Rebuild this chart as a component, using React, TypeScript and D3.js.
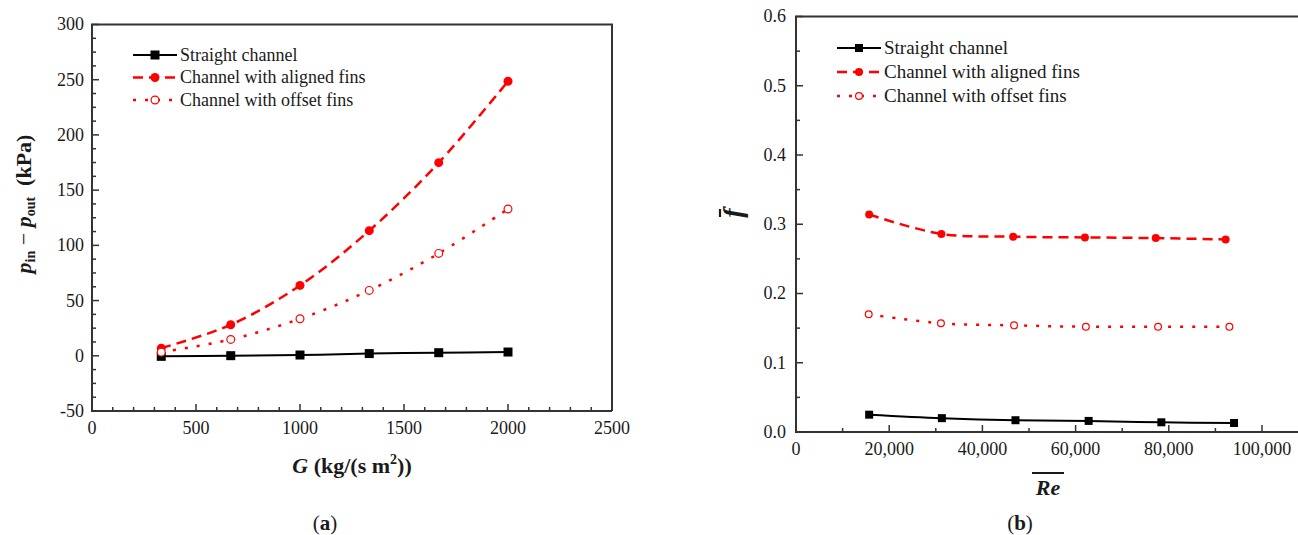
import React from "react";
import * as d3 from "d3";

// ---------- data: panel (a) ----------
const gValues = [333, 667, 1000, 1333, 1667, 2000];
const dpStraight = [-0.5, 0.1, 0.7, 2.0, 2.8, 3.4];
const dpAligned = [6.9, 28.1, 63.7, 113.3, 174.9, 248.6];
const dpOffset = [3.3, 14.8, 33.5, 59.2, 92.7, 132.9];
const aXTicks = [0, 500, 1000, 1500, 2000, 2500];
const aYTicks = [-50, 0, 50, 100, 150, 200, 250, 300];

// ---------- data: panel (b) ----------
const reStraight = [15700, 31300, 47100, 62800, 78400, 94000];
const fStraight = [0.025, 0.02, 0.017, 0.016, 0.014, 0.013];
const reAligned = [15700, 31200, 46600, 62000, 77200, 92200];
const fAligned = [0.314, 0.286, 0.282, 0.281, 0.28, 0.278];
const reOffset = [15600, 31100, 46800, 62200, 77700, 93000];
const fOffset = [0.17, 0.157, 0.154, 0.152, 0.152, 0.152];
const bXTicks = [0, 20000, 40000, 60000, 80000, 100000];
const bYTicks = [0, 0.1, 0.2, 0.3, 0.4, 0.5, 0.6];

const seriesNames = ["Straight channel", "Channel with aligned fins", "Channel with offset fins"];

const FONT = "Liberation Serif";
const AXIS = "#333";
const TXT = "#1a1a1a";
const RED = "#ff0000";
const fontStyle = { fontFamily: '"Liberation Serif", "Times New Roman", Times, serif' };

type Style = { color: string; dash?: string; width: number; marker: "square" | "circle" | "open" };
const styles: Style[] = [
  { color: "#000", width: 2, marker: "square" },
  { color: RED, dash: "10 6", width: 2.5, marker: "circle" },
  { color: RED, dash: "3 9", width: 2.5, marker: "open" },
];

function Marker({ x, y, s, size }: { x: number; y: number; s: Style; size: number }) {
  if (s.marker === "square")
    return <rect x={x - size / 2} y={y - size / 2} width={size} height={size} fill="#000" />;
  if (s.marker === "circle") return <circle cx={x} cy={y} r={size / 2} fill={RED} />;
  return <circle cx={x} cy={y} r={size / 2 - 0.6} fill="#fff" stroke={RED} strokeWidth={1.2} />;
}

type PanelProps = {
  x: d3.ScaleLinear<number, number>;
  y: d3.ScaleLinear<number, number>;
  xTicks: number[];
  yTicks: number[];
  xMinorStep: number;
  yMinorStep: number;
  xFmt: (v: number) => string;
  yFmt: (v: number) => string;
  series: { xs: number[]; ys: number[] }[];
  rightBorder: boolean;
  markerSize: number;
  legend: { x: number; y: number; dy: number; fontSize: number };
  tickFont: number;
  xLabelDy: number;
  yLabelDx: number;
};

function Panel(p: PanelProps) {
  const [x0, x1] = p.x.range();
  const [y0, y1] = p.y.range();
  const xd = p.x.domain();
  const yd = p.y.domain();
  const xMinor = d3.range(xd[0], xd[1] + 1e-9, p.xMinorStep).filter((v) => p.x(v) <= 1298);
  const yMinor = d3.range(yd[0], yd[1] + 1e-9, p.yMinorStep);
  const isMajor = (arr: number[], v: number) => arr.some((t) => Math.abs(t - v) < 1e-9);
  const line = d3
    .line<[number, number]>()
    .x((d) => p.x(d[0]))
    .y((d) => p.y(d[1]))
    .curve(d3.curveCatmullRom.alpha(0.5));
  const right = Math.min(x1, 1300);
  return (
    <g>
      {p.series.map((sr, i) => {
        const pts = sr.xs.map((v, k) => [v, sr.ys[k]] as [number, number]);
        const s = styles[i];
        return (
          <g key={i}>
            <path d={line(pts) || ""} fill="none" stroke={s.color} strokeWidth={s.width} strokeDasharray={s.dash} />
            {pts.map((d, k) => (
              <Marker key={k} x={p.x(d[0])} y={p.y(d[1])} s={s} size={p.markerSize} />
            ))}
          </g>
        );
      })}
      <line x1={x0} x2={x0} y1={y0} y2={y1} stroke={AXIS} strokeWidth={2} />
      <line x1={x0 - 1} x2={right} y1={y0} y2={y0} stroke={AXIS} strokeWidth={2} />
      <line x1={x0 - 1} x2={right + (p.rightBorder ? 1 : 0)} y1={y1} y2={y1} stroke={AXIS} strokeWidth={2} />
      {p.rightBorder && <line x1={x1} x2={x1} y1={y0} y2={y1} stroke={AXIS} strokeWidth={2} />}
      {xMinor.map((v) => (
        <line key={"xt" + v} x1={p.x(v)} x2={p.x(v)} y1={y0} y2={y0 - (isMajor(p.xTicks, v) ? 7 : 4)} stroke={AXIS} strokeWidth={1.5} />
      ))}
      {yMinor.map((v) => (
        <line key={"yt" + v} x1={x0} x2={x0 + (isMajor(p.yTicks, v) ? 7 : 4)} y1={p.y(v)} y2={p.y(v)} stroke={AXIS} strokeWidth={1.5} />
      ))}
      {p.xTicks.map((v) => (
        <text key={"xl" + v} x={p.x(v)} y={y0 + p.xLabelDy} textAnchor="middle" style={fontStyle} fontSize={p.tickFont} fill={TXT}>
          {p.xFmt(v)}
        </text>
      ))}
      {p.yTicks.map((v) => (
        <text key={"yl" + v} x={x0 - p.yLabelDx} y={p.y(v) + p.tickFont * 0.33} textAnchor="end" style={fontStyle} fontSize={p.tickFont} fill={TXT}>
          {p.yFmt(v)}
        </text>
      ))}
      {seriesNames.map((name, i) => {
        const s = styles[i];
        const ly = p.legend.y + i * p.legend.dy;
        const lx = p.legend.x;
        return (
          <g key={name}>
            <line x1={lx} x2={lx + 44} y1={ly} y2={ly} stroke={s.color} strokeWidth={s.width} strokeDasharray={s.dash} />
            <Marker x={lx + 22} y={ly} s={s} size={p.markerSize} />
            <text x={lx + 47} y={ly + p.legend.fontSize * 0.33} style={fontStyle} fontSize={p.legend.fontSize} fill={TXT}>
              {name}
            </text>
          </g>
        );
      })}
    </g>
  );
}

export default function App() {
  const ax = d3.scaleLinear().domain([0, 2500]).range([92, 612]);
  const ay = d3.scaleLinear().domain([-50, 300]).range([411, 24.5]);
  const bx = d3.scaleLinear().domain([0, 110000]).range([796, 796 + 5.5 * 93.2]);
  const by = d3.scaleLinear().domain([0, 0.6]).range([432, 16.5]);
  const fmtComma = d3.format(",");
  const fmt1 = d3.format(".1f");
  return (
    <svg
      width={1298}
      height={535}
      style={{ position: "absolute", left: 0, top: 0, background: "#fff", ...fontStyle }}
      fontFamily={FONT}
    >
      <rect x={0} y={0} width={1298} height={535} fill="#fff" />
      <Panel
        x={ax}
        y={ay}
        xTicks={aXTicks}
        yTicks={aYTicks}
        xMinorStep={100}
        yMinorStep={12.5}
        xFmt={(v) => String(v)}
        yFmt={(v) => String(v)}
        series={[
          { xs: gValues, ys: dpStraight },
          { xs: gValues, ys: dpAligned },
          { xs: gValues, ys: dpOffset },
        ]}
        rightBorder={true}
        markerSize={9}
        legend={{ x: 133, y: 55, dy: 22.5, fontSize: 18 }}
        tickFont={18}
        xLabelDy={23}
        yLabelDx={8}
      />
      <Panel
        x={bx}
        y={by}
        xTicks={bXTicks}
        yTicks={bYTicks}
        xMinorStep={10000}
        yMinorStep={0.05}
        xFmt={(v) => fmtComma(v)}
        yFmt={(v) => fmt1(v)}
        series={[
          { xs: reStraight, ys: fStraight },
          { xs: reAligned, ys: fAligned },
          { xs: reOffset, ys: fOffset },
        ]}
        rightBorder={false}
        markerSize={8}
        legend={{ x: 837, y: 48, dy: 24, fontSize: 19 }}
        tickFont={18}
        xLabelDy={23}
        yLabelDx={10}
      />
      <g transform="translate(31,204) rotate(-90)">
        <text textAnchor="middle" fontWeight="bold" fontSize={22} fill={TXT} style={{ ...fontStyle, whiteSpace: "pre" }}>
          <tspan fontStyle="italic">p</tspan>
          <tspan fontSize={14} dy={4}>in</tspan>
          <tspan dy={-4} fontWeight="normal">{" \u2212 "}</tspan>
          <tspan fontStyle="italic">p</tspan>
          <tspan fontSize={14} dy={4}>out</tspan>
          <tspan dy={-4}>{"  (kPa)"}</tspan>
        </text>
      </g>
      <text x={352} y={473} textAnchor="middle" fontWeight="bold" fontSize={22} fill={TXT} style={{ ...fontStyle, whiteSpace: "pre" }}>
        <tspan fontStyle="italic">G</tspan>
        <tspan>{" (kg/(s m"}</tspan>
        <tspan fontSize={14} dy={-9}>2</tspan>
        <tspan dy={9}>))</tspan>
      </text>
      <text x={325} y={530} textAnchor="middle" fontSize={21} fill={TXT} style={fontStyle}>
        <tspan>(</tspan>
        <tspan fontWeight="bold">a</tspan>
        <tspan>)</tspan>
      </text>
      <g transform="translate(742,213) rotate(-90)">
        <text textAnchor="middle" fontWeight="bold" fontStyle="italic" fontSize={28} fill={TXT} style={fontStyle}>
          f
        </text>
        <line x1={-4} x2={4} y1={-22} y2={-22} stroke={TXT} strokeWidth={2.2} />
      </g>
      <text x={1048} y={495} textAnchor="middle" fontWeight="bold" fontStyle="italic" fontSize={22} fill={TXT} style={fontStyle}>
        Re
      </text>
      <line x1={1032} x2={1064} y1={473} y2={473} stroke={TXT} strokeWidth={2} />
      <text x={1020} y={530} textAnchor="middle" fontSize={21} fill={TXT} style={fontStyle}>
        <tspan>(</tspan>
        <tspan fontWeight="bold">b</tspan>
        <tspan>)</tspan>
      </text>
    </svg>
  );
}
